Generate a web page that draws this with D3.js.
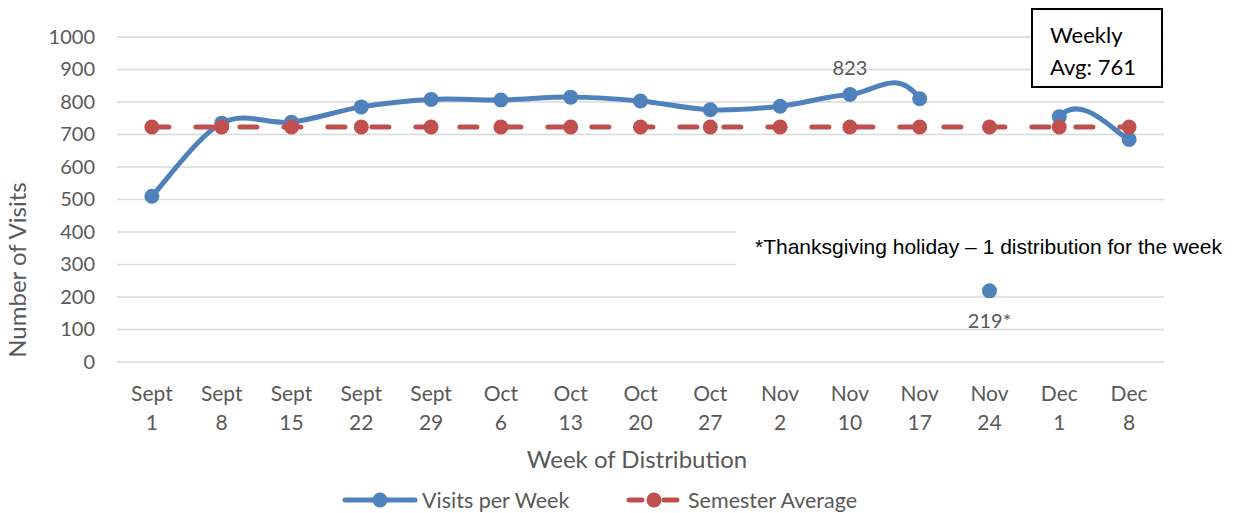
<!DOCTYPE html>
<html>
<head>
<meta charset="utf-8">
<script src="https://cdn.jsdelivr.net/npm/d3@7"></script>
<style>
    body { margin: 0; background: #fff; }
    svg text { font-family: Lato, "Open Sans", sans-serif; fill: #595959; }
</style>
</head>
<body>
<div class="chart"></div>
<script>

// Data
var weeks = ["Sept 1", "Sept 8", "Sept 15", "Sept 22", "Sept 29", "Oct 6", "Oct 13", "Oct 20",
    "Oct 27", "Nov 2", "Nov 10", "Nov 17", "Nov 24", "Dec 1", "Dec 8"];
var visits = [510, 735, 738, 785, 808, 806, 815, 803, 776, 787, 823, 810, 219, 755, 685];
var semesterAvg = [723, 723, 723, 723, 723, 723, 723, 723, 723, 723, 723, 723, 723, 723, 723];
// weeks drawn as a single point, not joined by the line
var isolated = ["Nov 24"];
var yTicks = [0, 100, 200, 300, 400, 500, 600, 700, 800, 900, 1000];
var pointLabels = [{ week: "Nov 10", text: "823", pos: "above" }, { week: "Nov 24", text: "219*", pos: "below" }];
var noteText = "*Thanksgiving holiday \u2013 1 distribution for the week";
var avgBox = ["Weekly", "Avg: 761"];

var blue = "#4f81bd", red = "#c0504d";

var svg = d3.select(".chart").append("svg")
    .attr("width", 1241)
    .attr("height", 513);

// Scales
var x = d3.scaleBand().domain(weeks).range([117, 1164]);
var cx = function(w) { return x(w) + x.bandwidth() / 2; };
var y = d3.scaleLinear().domain([0, 1000]).range([362, 37]);

// Gridlines
svg.append("g").selectAll("line")
    .data(yTicks)
    .enter().append("line")
    .attr("x1", 117).attr("x2", 1164)
    .attr("y1", function(d) { return y(d); })
    .attr("y2", function(d) { return y(d); })
    .attr("stroke", "#d9d9d9")
    .attr("stroke-width", 1.3);

// Y axis
var yAxis = d3.axisLeft(y).tickValues(yTicks).tickFormat(d3.format("d")).tickSize(0).tickPadding(0);
var yg = svg.append("g").attr("transform", "translate(95,0)").call(yAxis);
yg.select(".domain").remove();
yg.selectAll("text").style("font-size", "20px").attr("fill", "#595959")
    .style("font-family", "Lato, sans-serif");

// X axis labels (two lines)
var xg = svg.append("g").selectAll("text")
    .data(weeks)
    .enter().append("text")
    .attr("text-anchor", "middle")
    .style("font-size", "21px");
xg.append("tspan")
    .attr("x", function(d) { return cx(d); })
    .attr("y", 401)
    .text(function(d) { return d.split(" ")[0]; });
xg.append("tspan")
    .attr("x", function(d) { return cx(d); })
    .attr("y", 430)
    .text(function(d) { return d.split(" ")[1]; });

// Axis titles
svg.append("text")
    .attr("x", 637).attr("y", 468)
    .attr("text-anchor", "middle")
    .style("font-size", "24px")
    .text("Week of Distribution");

svg.append("text")
    .attr("transform", "translate(26,270) rotate(-90)")
    .attr("text-anchor", "middle")
    .style("font-size", "24px")
    .text("Number of Visits");

// Note box (covers the gridlines behind it)
svg.append("rect")
    .attr("x", 736).attr("y", 227)
    .attr("width", 505).attr("height", 40)
    .attr("fill", "#fff");
svg.append("text")
    .attr("x", 755).attr("y", 254)
    .style("font-family", "'Liberation Sans', Arial, sans-serif")
    .style("font-size", "21px")
    .style("fill", "#000")
    .text(noteText);

// Smoothed visits line: Excel-style cardinal curve, tangents use every neighbour
var pts = weeks.map(function(w, i) { return [cx(w), y(visits[i])]; });
var path = d3.path();
var started = false;
for (var i = 0; i < pts.length - 1; i++) {
    if (isolated.indexOf(weeks[i]) >= 0 || isolated.indexOf(weeks[i + 1]) >= 0) { started = false; continue; }
    var p0 = pts[Math.max(i - 1, 0)], p1 = pts[i], p2 = pts[i + 1], p3 = pts[Math.min(i + 2, pts.length - 1)];
    if (!started) { path.moveTo(p1[0], p1[1]); started = true; }
    path.bezierCurveTo(
        p1[0] + (p2[0] - p0[0]) / 6, p1[1] + (p2[1] - p0[1]) / 6,
        p2[0] - (p3[0] - p1[0]) / 6, p2[1] - (p3[1] - p1[1]) / 6,
        p2[0], p2[1]);
}
svg.append("path")
    .attr("d", path.toString())
    .attr("fill", "none")
    .attr("stroke", blue)
    .attr("stroke-width", 5)
    .attr("stroke-linecap", "round");

svg.append("g").selectAll("circle")
    .data(weeks)
    .enter().append("circle")
    .attr("cx", function(d) { return cx(d); })
    .attr("cy", function(d, i) { return y(visits[i]); })
    .attr("r", 7.5)
    .attr("fill", blue);

// Semester average
var avgLine = d3.line()
    .x(function(d, i) { return cx(weeks[i]); })
    .y(function(d) { return y(d); });
svg.append("path")
    .datum(semesterAvg)
    .attr("d", avgLine)
    .attr("fill", "none")
    .attr("stroke", red)
    .attr("stroke-width", 5)
    .attr("stroke-linecap", "round")
    .attr("stroke-dasharray", "17,27");

svg.append("g").selectAll("circle")
    .data(weeks)
    .enter().append("circle")
    .attr("cx", function(d) { return cx(d); })
    .attr("cy", function(d, i) { return y(semesterAvg[i]); })
    .attr("r", 7.5)
    .attr("fill", red);

// Data labels
svg.append("g").selectAll("text")
    .data(pointLabels)
    .enter().append("text")
    .attr("x", function(d) { return cx(d.week); })
    .attr("y", function(d) {
        var v = visits[weeks.indexOf(d.week)];
        return d.pos === "above" ? y(v) - 20 : y(v) + 37;
    })
    .attr("text-anchor", "middle")
    .style("font-size", "20px")
    .text(function(d) { return d.text; });

// Weekly average box
svg.append("rect")
    .attr("x", 1032).attr("y", 9)
    .attr("width", 130).attr("height", 78)
    .attr("fill", "#fff")
    .attr("stroke", "#000")
    .attr("stroke-width", 2);
svg.append("text")
    .selectAll("tspan")
    .data(avgBox)
    .enter().append("tspan")
    .attr("x", 1050)
    .attr("y", function(d, i) { return 43 + i * 32; })
    .style("font-size", "22px")
    .style("fill", "#000")
    .text(function(d) { return d; });

// Legend
var legend = [{ name: "Visits per Week", color: blue, dash: null, x: 345 },
              { name: "Semester Average", color: red, dash: "17,27", x: 627 }];
var lg = svg.append("g").selectAll("g")
    .data(legend)
    .enter().append("g")
    .attr("transform", function(d) { return "translate(" + d.x + ",500)"; });
lg.append("line")
    .attr("x1", function(d) { return d.dash ? 2 : 0; })
    .attr("x2", function(d) { return d.dash ? 53 : 70; })
    .attr("stroke", function(d) { return d.color; })
    .attr("stroke-width", 5)
    .attr("stroke-linecap", "round")
    .attr("stroke-dasharray", function(d) { return d.dash ? "13,22" : null; });
lg.append("circle")
    .attr("cx", function(d) { return d.dash ? 27 : 35; })
    .attr("r", 7.5)
    .attr("fill", function(d) { return d.color; });
lg.append("text")
    .attr("x", function(d) { return d.dash ? 61 : 77; })
    .attr("y", 8)
    .style("font-size", "21.5px")
    .text(function(d) { return d.name; });

</script>
</body>
</html>
